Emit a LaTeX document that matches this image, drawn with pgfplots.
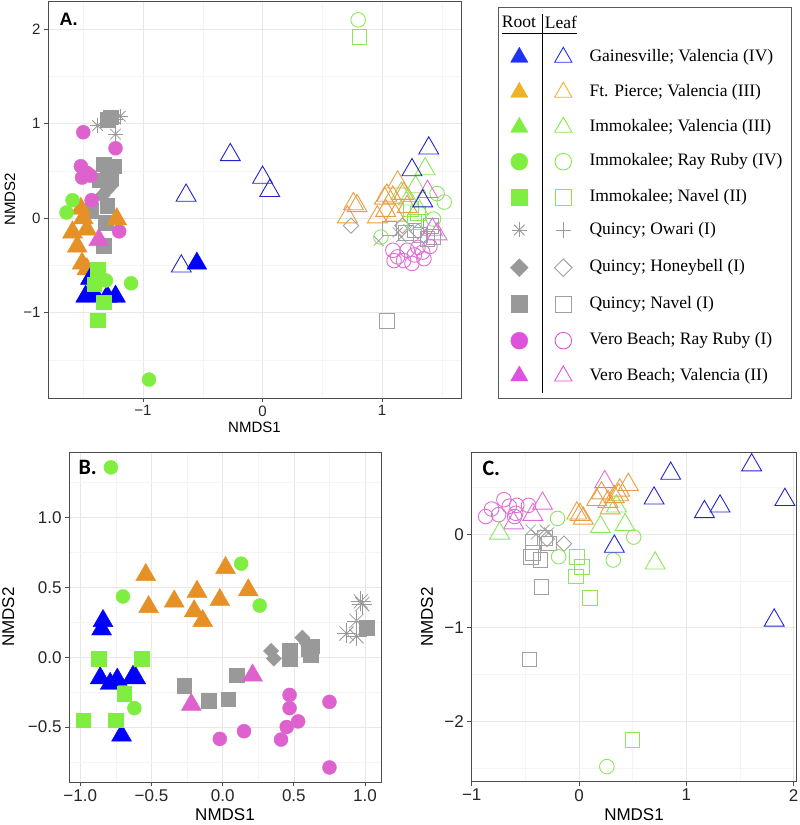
\documentclass[border=0pt]{standalone}
\usepackage{fontspec}
\setmainfont{Liberation Sans}
\newfontfamily\legfont{Liberation Serif}
\newfontfamily\calfont{Carlito}
\usepackage{pgfplots}
\pgfplotsset{compat=1.18}

% plot colours
\definecolor{cblue}{RGB}{0,0,255}
\definecolor{oblue}{RGB}{36,36,204}
\definecolor{corange}{RGB}{230,145,40}
\definecolor{oorange}{RGB}{232,158,64}
\definecolor{cgreen}{RGB}{128,238,64}
\definecolor{ogreen}{RGB}{140,230,90}
\definecolor{cgray}{RGB}{153,153,153}
\definecolor{ogray}{RGB}{160,160,160}
\definecolor{cpink}{RGB}{222,98,206}
\definecolor{opink}{RGB}{222,110,212}
% legend colours
\definecolor{lblue}{RGB}{30,50,245}
\definecolor{lorange}{RGB}{238,178,40}
\definecolor{lpink}{RGB}{222,82,222}

\pgfplotsset{
  panel/.style={scale only axis,
    axis line style={draw=black!70, line width=0.9pt},
    grid=both,
    major grid style={draw=black!9, line width=0.7pt},
    minor grid style={draw=black!4.5, line width=0.5pt},
    tick align=outside, tick pos=left,
    major tick length=4pt, minor tick length=0pt,
    every tick/.style={black!70, line width=0.9pt},
    tick label style={font=\fontsize{15}{15}\selectfont, text=black!85},
    label style={font=\fontsize{15}{15}\selectfont},
    xlabel={NMDS1}, ylabel={NMDS2}},
  fT/.style={only marks, mark=triangle*, mark size=11.5, color=#1},
  fC/.style={only marks, mark=*, mark size=7, color=#1},
  fS/.style={only marks, mark=square*, mark size=7.3, color=#1},
  fD/.style={only marks, mark=square*, mark size=5.4, color=#1, mark options={rotate=45}},
  oT/.style={only marks, mark=triangle, mark size=11.5, color=#1, mark options={line width=0.9pt}},
  oC/.style={only marks, mark=o, mark size=7.3, color=#1, mark options={line width=0.9pt}},
  oS/.style={only marks, mark=square, mark size=7.3, color=#1, mark options={line width=0.9pt}},
  oD/.style={only marks, mark=square, mark size=5.4, color=#1, mark options={rotate=45, line width=0.9pt}},
  oX/.style={only marks, mark=x, mark size=7, color=#1, mark options={line width=0.8pt}},
  sP/.style={only marks, mark=+, mark size=#1, color=cgray, mark options={line width=0.8pt}},
  sX/.style={only marks, mark=x, mark size=#1, color=cgray, mark options={line width=0.8pt}},
}

\begin{document}
\begin{tikzpicture}
\useasboundingbox (0,0) rectangle (800pt,825pt);

% ---------------- Panel A ----------------
\begin{axis}[panel, at={(48pt,427pt)}, anchor=south west,
  width=413pt, height=397pt,
  xmin=-1.795, xmax=1.66, ymin=-1.905, ymax=2.30,
  xlabel style={at={(axis description cs:0.5,-0.073)}, anchor=center},
  ylabel style={at={(axis description cs:-0.092,0.5)}, anchor=center},
  xtick={-1,0,1}, xticklabels={−1,0,1}, minor xtick={-1.5,-0.5,0.5,1.5},
  ytick={-1,0,1,2}, yticklabels={−1,0,1,2}, minor ytick={-1.5,-0.5,0.5,1.5}]
% leaf (open)
\addplot[oC=opink] coordinates {(1.09,-0.34)(1.13,-0.41)(1.21,-0.34)(1.27,-0.39)(1.25,-0.48)(1.34,-0.36)(1.35,-0.43)(1.30,-0.31)(1.10,-0.45)(1.18,-0.45)(1.40,-0.30)};
\addplot[oS=ogray] coordinates {(1.04,-1.09)(1.06,-0.11)(1.27,-0.13)(1.32,-0.18)(1.41,-0.08)(1.43,-0.20)(1.38,-0.22)(1.20,-0.16)};
\addplot[oD=ogray] coordinates {(0.74,-0.08)(1.17,-0.08)(1.30,-0.14)};
\addplot[oX=ogray] coordinates {(0.97,-0.24)(1.16,-0.20)(1.13,-0.15)(1.22,-0.12)};
\addplot[oS=ogreen] coordinates {(0.81,1.92)(1.30,0.05)(1.27,-0.04)(1.24,0.10)};
\addplot[oC=ogreen] coordinates {(0.80,2.10)(1.46,0.26)(1.52,0.17)(1.43,-0.01)(0.99,-0.20)};
\addplot[oT=ogreen] coordinates {(1.36,0.52)(1.28,0.33)(1.16,0.26)(1.22,0.20)(1.30,0.10)};
\addplot[oT=oorange] coordinates {(0.76,0.15)(0.79,0.13)(0.71,0.01)(1.13,0.38)(1.04,0.24)(1.09,0.22)(1.02,0.21)(1.18,0.26)(1.03,0.08)(0.96,0.01)(1.11,0.03)(1.21,0.12)};
\addplot[oT=opink] coordinates {(1.38,0.28)(1.46,-0.17)(1.42,-0.12)};
\addplot[oT=oblue] coordinates {(-0.27,0.67)(-0.64,0.24)(0.00,0.43)(0.06,0.29)(-0.68,-0.51)(1.39,0.74)(1.25,0.51)(1.34,0.18)};
% root (filled)
\addplot[fS=cgray] coordinates {(-1.27,1.07)(-1.30,1.04)(-1.33,0.57)(-1.24,0.55)(-1.27,0.43)(-1.36,0.40)(-1.30,0.42)(-1.30,0.13)(-1.44,0.08)(-1.31,-0.05)(-1.33,-0.29)};
\addplot[fD=cgray] coordinates {(-1.30,0.30)(-1.34,0.24)(-1.27,0.34)};
\addplot[sP=7.5] coordinates {(-1.38,0.98)(-1.23,1.05)(-1.23,0.89)(-1.19,1.08)(-1.29,1.03)};
\addplot[sX=7.5] coordinates {(-1.38,0.98)(-1.23,1.05)(-1.23,0.89)(-1.19,1.08)(-1.29,1.03)};
\addplot[fC=cpink] coordinates {(-1.50,0.91)(-1.23,0.74)(-1.52,0.55)(-1.51,0.43)(-1.44,0.45)(-1.43,0.19)(-1.20,-0.14)(-1.47,0.48)};
\addplot[fT=cpink] coordinates {(-1.37,-0.23)};
\addplot[fT=corange] coordinates {(-1.52,0.10)(-1.50,0.00)(-1.59,-0.15)(-1.47,-0.12)(-1.55,-0.30)(-1.51,-0.48)(-1.47,-0.54)(-1.22,-0.01)};
\addplot[fT=cblue] coordinates {(-1.44,-0.64)(-1.48,-0.83)(-1.40,-0.82)(-1.30,-0.83)(-1.23,-0.83)(-0.55,-0.48)};
\addplot[fS=cgreen] coordinates {(-1.38,-0.54)(-1.41,-0.70)(-1.33,-0.89)(-1.38,-1.08)};
\addplot[fC=cgreen] coordinates {(-1.59,0.19)(-1.64,0.06)(-1.31,-0.66)(-1.10,-0.69)(-0.95,-1.71)};
\end{axis}

% ---------------- Legend ----------------
\begin{axis}[scale only axis, at={(498pt,427pt)}, anchor=south west,
  width=293pt, height=391pt, xmin=0, xmax=293, ymin=0, ymax=391,
  axis lines=box, xtick=\empty, ytick=\empty, clip=false,
  axis line style={draw=black!65, line width=0.8pt}]
\draw[black, line width=0.7pt] (axis cs:4,364.5) -- (axis cs:79,364.5);
\draw[black, line width=0.7pt] (axis cs:44.7,384) -- (axis cs:44.7,5);
\node[font=\legfont\fontsize{17.5}{17.5}\selectfont] at (axis cs:21,376) {Root};
\node[font=\legfont\fontsize{17.5}{17.5}\selectfont] at (axis cs:63,376) {Leaf};
% root column
\addplot[only marks, mark=triangle*, mark size=10, color=lblue] coordinates {(21.3,340.7)};
\addplot[only marks, mark=triangle*, mark size=10, color=lorange] coordinates {(21.3,305.7)};
\addplot[only marks, mark=triangle*, mark size=10, color=cgreen] coordinates {(21.3,270.7)};
\addplot[only marks, mark=*, mark size=8.5, color=cgreen] coordinates {(21.3,236.3)};
\addplot[only marks, mark=square*, mark size=8.3, color=cgreen] coordinates {(21.3,200.7)};
\addplot[sP=7.5] coordinates {(21.3,168)};
\addplot[sX=7.5] coordinates {(21.3,168)};
\addplot[only marks, mark=square*, mark size=6.3, color=cgray, mark options={rotate=45}] coordinates {(21.3,130.3)};
\addplot[only marks, mark=square*, mark size=8.3, color=cgray] coordinates {(21.3,94)};
\addplot[only marks, mark=*, mark size=8.5, color=lpink] coordinates {(21.3,57.3)};
\addplot[only marks, mark=triangle*, mark size=10, color=lpink] coordinates {(21.3,22)};
% leaf column
\addplot[only marks, mark=triangle, mark size=10, color=lblue, mark options={line width=0.9pt}] coordinates {(65.3,340.7)};
\addplot[only marks, mark=triangle, mark size=10, color=lorange, mark options={line width=0.9pt}] coordinates {(65.3,305.7)};
\addplot[only marks, mark=triangle, mark size=10, color=cgreen, mark options={line width=0.9pt}] coordinates {(65.3,270.7)};
\addplot[only marks, mark=o, mark size=8.3, color=cgreen, mark options={line width=0.9pt}] coordinates {(65.3,236.3)};
\addplot[only marks, mark=square, mark size=8, color=cgreen, mark options={line width=0.9pt}] coordinates {(65.3,200.7)};
\addplot[sP=7.7] coordinates {(65.3,168)};
\addplot[only marks, mark=square, mark size=6.2, color=ogray, mark options={rotate=45, line width=0.9pt}] coordinates {(65.3,130.3)};
\addplot[only marks, mark=square, mark size=8, color=ogray, mark options={line width=0.9pt}] coordinates {(65.3,94)};
\addplot[only marks, mark=o, mark size=8.3, color=lpink, mark options={line width=0.9pt}] coordinates {(65.3,57.3)};
\addplot[only marks, mark=triangle, mark size=10, color=lpink, mark options={line width=0.9pt}] coordinates {(65.3,22)};
% texts
\begin{scope}[every node/.style={anchor=west, font=\legfont\fontsize{17.5}{17.5}\selectfont}]
\node at (axis cs:88,340.7) {Gainesville; Valencia (IV)};
\node at (axis cs:88,305.7) {Ft. Pierce; Valencia (III)};
\node at (axis cs:88,270.7) {Immokalee; Valencia (III)};
\node at (axis cs:88,236.3) {Immokalee; Ray Ruby (IV)};
\node at (axis cs:88,200.7) {Immokalee; Navel (II)};
\node at (axis cs:88,168) {Quincy; Owari (I)};
\node at (axis cs:88,130.3) {Quincy; Honeybell (I)};
\node at (axis cs:88,94) {Quincy; Navel (I)};
\node at (axis cs:88,57.3) {Vero Beach; Ray Ruby (I)};
\node at (axis cs:88,22) {Vero Beach; Valencia (II)};
\end{scope}
\end{axis}

% ---------------- Panel B ----------------
\begin{axis}[panel, at={(69pt,43pt)}, anchor=south west,
  width=312pt, height=330pt,
  xmin=-1.079, xmax=1.112, ymin=-0.894, ymax=1.47,
  tick label style={font=\fontsize{17}{17}\selectfont},
  label style={font=\fontsize{17}{17}\selectfont},
  xlabel style={at={(axis description cs:0.5,-0.1)}, anchor=center},
  ylabel style={at={(axis description cs:-0.195,0.5)}, anchor=center},
  xtick={-1,-0.5,0,0.5,1}, xticklabels={−1.0,−0.5,0.0,0.5,1.0},
  minor xtick={-0.75,-0.25,0.25,0.75},
  ytick={-0.5,0,0.5,1}, yticklabels={−0.5,0.0,0.5,1.0},
  minor ytick={-0.75,-0.25,0.25,0.75,1.25}]
\addplot[fT=cblue] coordinates {(-0.84,0.26)(-0.85,0.20)(-0.86,-0.15)(-0.79,-0.19)(-0.74,-0.16)(-0.63,-0.14)(-0.61,-0.15)(-0.71,-0.56)};
\addplot[fT=corange] coordinates {(-0.54,0.59)(-0.52,0.36)(-0.34,0.40)(-0.18,0.47)(-0.20,0.33)(-0.14,0.26)(-0.02,0.41)(0.02,0.64)(0.18,0.48)};
\addplot[fC=cgreen] coordinates {(-0.785,1.36)(0.13,0.67)(-0.70,0.435)(0.26,0.37)(-0.62,-0.365)};
\addplot[fS=cgreen] coordinates {(-0.87,-0.01)(-0.57,-0.01)(-0.69,-0.26)(-0.75,-0.45)(-0.98,-0.45)};
\addplot[fD=cgray] coordinates {(0.34,0.045)(0.36,-0.01)(0.56,0.14)(0.59,0.10)};
\addplot[fS=cgray] coordinates {(-0.27,-0.205)(-0.10,-0.31)(0.04,-0.30)(0.10,-0.13)(0.47,0.05)(0.47,-0.01)(0.60,0.06)(0.62,0.02)(0.63,0.08)(1.01,0.21)};
\addplot[sP=10] coordinates {(0.97,0.40)(0.98,0.38)(0.94,0.26)(0.87,0.17)(0.94,0.15)};
\addplot[sX=10] coordinates {(0.97,0.40)(0.98,0.38)(0.94,0.26)(0.87,0.17)(0.94,0.15)};
\addplot[fT=cpink] coordinates {(-0.22,-0.34)(0.21,-0.13)};
\addplot[fC=cpink] coordinates {(-0.02,-0.585)(0.15,-0.53)(0.47,-0.27)(0.47,-0.365)(0.45,-0.50)(0.53,-0.46)(0.41,-0.59)(0.75,-0.32)(0.75,-0.79)};
\end{axis}

% ---------------- Panel C ----------------
\begin{axis}[panel, at={(471.3pt,43.3pt)}, anchor=south west,
  width=325.4pt, height=329.4pt,
  xmin=-1.004, xmax=2.03, ymin=-2.646, ymax=0.877,
  tick label style={font=\fontsize{17}{17}\selectfont},
  label style={font=\fontsize{17}{17}\selectfont},
  xlabel style={at={(axis description cs:0.5,-0.1)}, anchor=center},
  ylabel style={at={(axis description cs:-0.136,0.5)}, anchor=center},
  xtick={-1,0,1,2}, xticklabels={−1,0,1,2}, minor xtick={-0.5,0.5,1.5},
  ytick={-2,-1,0}, yticklabels={−2,−1,0}, minor ytick={-2.5,-1.5,-0.5,0.5}]
\addplot[oC=opink] coordinates {(-0.87,0.19)(-0.70,0.37)(-0.75,0.21)(-0.58,0.31)(-0.59,0.225)(-0.60,0.19)(-0.47,0.31)(-0.815,0.27)(-0.65,0.30)};
\addplot[oT=opink] coordinates {(-0.34,0.33)(-0.43,0.21)(-0.61,0.12)(0.24,0.56)};
\addplot[oX=ogray] coordinates {(-0.45,0.05)(-0.32,0.05)(-0.40,0.00)(-0.28,0.02)};
\addplot[oD=ogray] coordinates {(-0.14,-0.10)(-0.30,-0.05)};
\addplot[oS=ogray] coordinates {(-0.435,-0.08)(-0.43,-0.20)(-0.32,-0.04)(-0.28,-0.10)(-0.36,-0.275)(-0.45,-0.24)(-0.35,-0.56)(-0.46,-1.34)};
\addplot[oT=oorange] coordinates {(0.46,0.53)(0.165,0.37)(0.27,0.35)(0.37,0.42)(0.38,0.47)(-0.02,0.225)(0.01,0.21)(0.04,0.17)(0.29,0.28)(0.21,0.44)(0.33,0.40)};
\addplot[oT=ogreen] coordinates {(0.20,0.08)(0.43,0.10)(0.35,0.30)(0.71,-0.31)(-0.74,0.01)};
\addplot[oC=ogreen] coordinates {(-0.20,0.17)(0.51,-0.03)(0.32,-0.275)(-0.19,-0.24)(0.26,-2.485)};
\addplot[oS=ogreen] coordinates {(-0.02,-0.24)(0.03,-0.35)(-0.03,-0.45)(0.10,-0.68)(0.50,-2.20)};
\addplot[oT=oblue] coordinates {(0.855,0.65)(1.61,0.74)(0.70,0.385)(1.17,0.24)(1.315,0.30)(1.92,0.37)(0.33,-0.13)(1.82,-0.92)};
\end{axis}

% panel letters
\node[anchor=west, font=\bfseries\fontsize{18}{18}\selectfont] at (56pt,806pt) {A.};
\node[anchor=west, font=\calfont\bfseries\fontsize{22}{22}\selectfont] at (75pt,357.5pt) {B.};
\node[anchor=west, font=\calfont\bfseries\fontsize{22}{22}\selectfont] at (479pt,356.5pt) {C.};
\end{tikzpicture}
\end{document}
